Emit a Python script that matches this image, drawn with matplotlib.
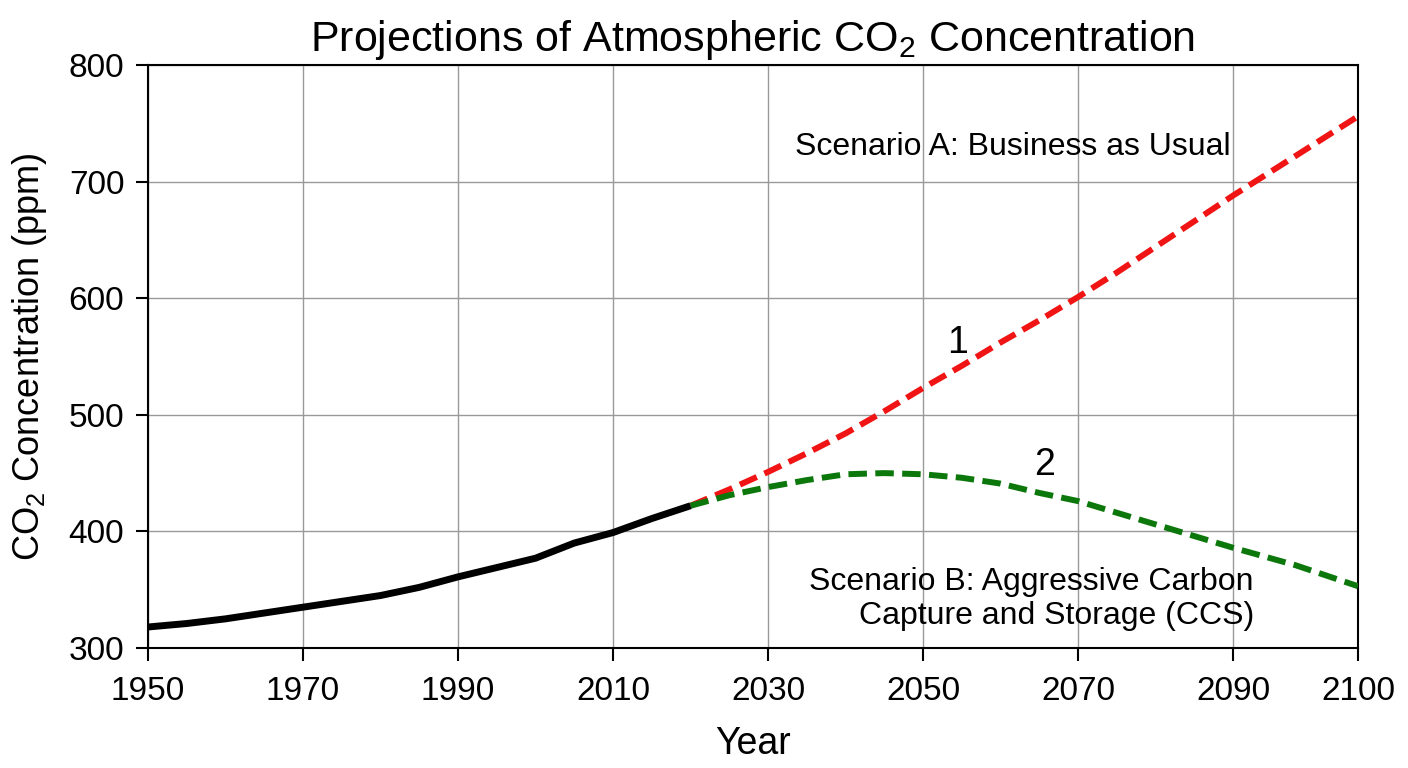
import numpy as np
import matplotlib.pyplot as plt

plt.rcParams['font.family'] = ['Liberation Sans', 'DejaVu Sans']
plt.rcParams['mathtext.default'] = 'regular'

# observed record
hist_years = [1950, 1955, 1960, 1965, 1970, 1975, 1980, 1985, 1990, 1995,
              2000, 2005, 2010, 2015, 2020]
hist_ppm = [318, 321, 325, 330, 335, 340, 345, 352, 361, 369,
            377, 390, 399, 411, 422]

# projections
proj_years = [2020, 2025, 2030, 2035, 2040, 2045, 2050, 2055, 2060,
              2065, 2070, 2075, 2080, 2085, 2090, 2095, 2100]
scen_a = [422, 436, 451, 467, 484, 503, 523, 542, 562,
          581, 601, 622, 644, 666, 688, 722, 756]
scen_b = [422, 431, 438, 444, 449, 450, 449, 446, 441,
          433, 426, 416, 406, 396, 386, 371, 353]

xticks = [1950, 1970, 1990, 2010, 2030, 2050, 2070, 2090, 2100]
yticks = [300, 400, 500, 600, 700, 800]

# the last decade of the axis is drawn wider than the rest in the original
k = 125 / 77.5


def fwd(x):
    x = np.asarray(x, dtype=float)
    return np.where(x <= 2090, x, 2090 + (x - 2090) * k)


def inv(x):
    x = np.asarray(x, dtype=float)
    return np.where(x <= 2090, x, 2090 + (x - 2090) / k)


fig = plt.figure(figsize=(14.08, 7.68), dpi=100)
ax = fig.add_axes([0.1051, 0.15625, 0.8594, 0.7591])
ax.set_xscale('function', functions=(fwd, inv))

dash = (0, (3.1, 1.4))
ax.plot(proj_years, scen_a, color='#f01414', lw=4.3, ls=dash, zorder=3)
ax.plot(proj_years, scen_b, color='#0c780c', lw=4.3, ls=dash, zorder=3)
ax.plot(hist_years, hist_ppm, color='black', lw=5, solid_capstyle='butt',
        solid_joinstyle='round', zorder=4)

ax.set_xlim(1950, 2100)
ax.set_ylim(300, 800)
ax.set_xticks(xticks)
ax.set_yticks(yticks)
ax.grid(True, color='#999999', lw=1)
ax.set_axisbelow(True)
for s in ax.spines.values():
    s.set_linewidth(1.5)
ax.tick_params(labelsize=24, width=1.5, length=9)
ax.tick_params(axis='x', pad=11)
ax.tick_params(axis='y', pad=8)

ax.set_title('Projections of Atmospheric CO$_2$ Concentration', fontsize=31, pad=10)
ax.set_xlabel('Year', fontsize=27, labelpad=14)
ax.set_ylabel('CO$_2$ Concentration (ppm)', fontsize=26, labelpad=14)

ax.text(0.715, 0.859, 'Scenario A: Business as Usual', transform=ax.transAxes,
        fontsize=23, ha='center', va='center')
ax.text(0.914, 0.084, 'Scenario B: Aggressive Carbon\nCapture and Storage (CCS)',
        transform=ax.transAxes, fontsize=23, ha='right', va='center',
        multialignment='right', linespacing=1.15)
ax.text(0.669, 0.523, '1', transform=ax.transAxes, fontsize=27, ha='center', va='center')
ax.text(0.741, 0.314, '2', transform=ax.transAxes, fontsize=27, ha='center', va='center')

fig.savefig('out.png', dpi=100)
